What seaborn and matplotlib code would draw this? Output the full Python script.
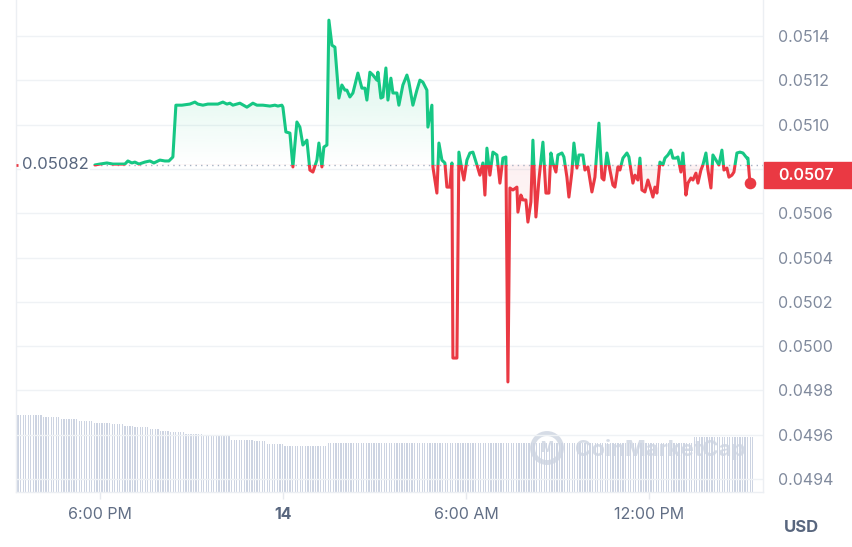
import numpy as np
import seaborn as sns
import matplotlib.pyplot as plt
from matplotlib.patches import Rectangle, Circle

# price series, hours counted from 13 Apr 00:00
price_hours = [
    17.836, 18.000, 18.230, 18.426, 18.656, 18.820, 18.918, 19.049, 19.148, 19.279,
    19.475, 19.639, 19.770, 19.967, 20.131, 20.262, 20.393, 20.492, 20.689, 20.951,
    21.115, 21.213, 21.377, 21.541, 21.705, 21.869, 22.033, 22.164, 22.262, 22.361,
    22.590, 22.820, 23.016, 23.148, 23.344, 23.574, 23.738, 23.836, 23.967, 24.000,
    24.098, 24.230, 24.328, 24.459, 24.557, 24.656, 24.787, 24.885, 24.984, 25.115,
    25.180, 25.279, 25.344, 25.443, 25.508, 25.607, 25.705, 25.836, 25.934, 26.033,
    26.098, 26.197, 26.295, 26.459, 26.590, 26.689, 26.754, 26.852, 26.951, 27.082,
    27.115, 27.213, 27.279, 27.377, 27.443, 27.541, 27.607, 27.738, 27.803, 27.934,
    28.066, 28.131, 28.262, 28.393, 28.492, 28.590, 28.721, 28.754, 28.885, 28.918,
    29.049, 29.115, 29.213, 29.311, 29.377, 29.475, 29.541, 29.574, 29.705, 29.770,
    29.869, 29.934, 30.033, 30.131, 30.230, 30.361, 30.459, 30.557, 30.623, 30.689,
    30.787, 30.885, 31.016, 31.115, 31.213, 31.311, 31.377, 31.443, 31.541, 31.672,
    31.705, 31.803, 31.869, 31.967, 32.033, 32.131, 32.197, 32.295, 32.393, 32.525,
    32.623, 32.721, 32.787, 32.852, 32.951, 33.016, 33.148, 33.213, 33.311, 33.377,
    33.475, 33.541, 33.639, 33.705, 33.836, 33.902, 34.000, 34.131, 34.230, 34.361,
    34.459, 34.525, 34.623, 34.721, 34.820, 34.885, 34.984, 35.049, 35.148, 35.279,
    35.344, 35.475, 35.541, 35.639, 35.705, 35.770, 35.869, 35.967, 36.066, 36.131,
    36.197, 36.262, 36.361, 36.459, 36.525, 36.623, 36.721, 36.787, 36.885, 36.951,
    37.049, 37.115, 37.213, 37.279, 37.377, 37.443, 37.541, 37.607, 37.705, 37.770,
    37.869, 37.934, 38.033, 38.098, 38.197, 38.295, 38.393, 38.459, 38.557, 38.623,
    38.721, 38.787, 38.885, 38.984, 39.082, 39.213, 39.246, 39.311,
]
price_values = [
    0.050818, 0.050822, 0.050827, 0.050822, 0.050822, 0.050822, 0.050836, 0.050827, 0.050831, 0.050822,
    0.050831, 0.050836, 0.050827, 0.050840, 0.050836, 0.050836, 0.050854, 0.051088, 0.051088, 0.051093,
    0.051102, 0.051093, 0.051088, 0.051093, 0.051093, 0.051093, 0.051102, 0.051093, 0.051097, 0.051088,
    0.051097, 0.051079, 0.051097, 0.051088, 0.051088, 0.051084, 0.051088, 0.051084, 0.051088, 0.051079,
    0.050967, 0.050962, 0.050809, 0.051012, 0.050989, 0.050908, 0.050930, 0.050795, 0.050786, 0.050840,
    0.050917, 0.050809, 0.050899, 0.050908, 0.051472, 0.051359, 0.051350, 0.051120, 0.051179, 0.051156,
    0.051156, 0.051125, 0.051143, 0.051233, 0.051165, 0.051165, 0.051111, 0.051237, 0.051224, 0.051201,
    0.051237, 0.051120, 0.051125, 0.051256, 0.051111, 0.051210, 0.051143, 0.051143, 0.051088, 0.051179,
    0.051224, 0.051192, 0.051088, 0.051156, 0.051201, 0.051192, 0.051156, 0.050989, 0.051088, 0.050809,
    0.050691, 0.050917, 0.050840, 0.050827, 0.050718, 0.050718, 0.050827, 0.049946, 0.049946, 0.050876,
    0.050795, 0.050750, 0.050840, 0.050872, 0.050876, 0.050818, 0.050772, 0.050827, 0.050682, 0.050894,
    0.050772, 0.050876, 0.050863, 0.050736, 0.050849, 0.050854, 0.049838, 0.050714, 0.050705, 0.050718,
    0.050605, 0.050682, 0.050660, 0.050660, 0.050560, 0.050651, 0.050930, 0.050583, 0.050750, 0.050921,
    0.050691, 0.050691, 0.050872, 0.050827, 0.050786, 0.050863, 0.050872, 0.050854, 0.050763, 0.050673,
    0.050786, 0.050917, 0.050804, 0.050863, 0.050863, 0.050795, 0.050809, 0.050696, 0.050763, 0.051007,
    0.050759, 0.050750, 0.050872, 0.050795, 0.050727, 0.050718, 0.050809, 0.050795, 0.050849, 0.050872,
    0.050854, 0.050736, 0.050772, 0.050750, 0.050849, 0.050705, 0.050696, 0.050750, 0.050705, 0.050673,
    0.050718, 0.050691, 0.050831, 0.050818, 0.050849, 0.050863, 0.050885, 0.050849, 0.050849, 0.050854,
    0.050786, 0.050872, 0.050682, 0.050736, 0.050759, 0.050750, 0.050781, 0.050736, 0.050795, 0.050818,
    0.050872, 0.050795, 0.050714, 0.050863, 0.050840, 0.050818, 0.050885, 0.050795, 0.050804, 0.050763,
    0.050772, 0.050786, 0.050872, 0.050876, 0.050872, 0.050849, 0.050849, 0.050736,
]
base_price = 0.05082

# 5-minute volume bars (relative height), run-length
volume_levels = [7.7, 7.5, 7.3, 7.1, 6.95, 6.8, 6.65, 6.5, 6.35, 6.15,
                 6.0, 5.8, 5.6, 5.25, 5.15, 4.85, 4.6, 4.9, 5.5]
volume_counts = [10, 7, 7, 6, 7, 5, 4, 6, 4, 4,
                 6, 7, 11, 9, 5, 7, 17, 144, 24]
volume_start = 15.32
volume_step = 5 / 60

tick_hours = [18, 24, 30, 36]
tick_labels = ["6:00 PM", "14", "6:00 AM", "12:00 PM"]
price_ticks = [0.0494, 0.0496, 0.0498, 0.0500, 0.0502, 0.0504,
               0.0506, 0.0508, 0.0510, 0.0512, 0.0514]

green = "#16c784"
red = "#ea3943"
grid_col = "#eff2f5"

sns.set_theme(style="white")
plt.rcParams["font.family"] = ["Inter", "DejaVu Sans"]

fig = plt.figure(figsize=(8.52, 5.47), dpi=100)
ax = fig.add_axes([16 / 852, 55 / 547, 747 / 852, 492 / 547])
ax_vol = ax.twinx()
ax.set_zorder(ax_vol.get_zorder() + 1)
ax.patch.set_visible(False)

x_lo, x_hi = 15.25, 39.74
y_lo, y_hi = 0.049341, 0.051563

# --- volume bars ---
vol = np.repeat(volume_levels, volume_counts)
vol_x = volume_start + volume_step * np.arange(len(vol))
ax_vol.bar(vol_x, vol, width=volume_step * 0.5, color="#cdd4e2", linewidth=0, zorder=1)
ax_vol.set_ylim(0, 7.7 * 492 / 77)
ax_vol.set_yticks([])
for s in ax_vol.spines.values():
    s.set_visible(False)

# watermark
wm = "#d6dce6"
ax_vol.text(575 / 852, 1 - 449 / 547, "CoinMarketCap", transform=fig.transFigure,
            fontsize=16, fontweight="bold", color=wm, va="center", ha="left", zorder=0)
ax_vol.add_patch(Circle((5.47, 0.99), 0.145, transform=fig.dpi_scale_trans,
                        fill=False, lw=3.5, ec=wm, zorder=0))
ax_vol.text(5.47, 0.99, "M", transform=fig.dpi_scale_trans, fontsize=10,
            fontweight="bold", color=wm, ha="center", va="center", zorder=0)

# --- gradient fills ---
t = np.array(price_hours)
p = np.array(price_values)
fill = ax.fill_between(t, p, base_price, color="none", linewidth=0)
clip_path = fill.get_paths()[0]

g_img = np.zeros((256, 1, 4))
g_img[..., :3] = plt.matplotlib.colors.to_rgb(green)
g_img[:, 0, 3] = np.linspace(0.22, 0.0, 256)
im_g = ax.imshow(g_img, extent=[x_lo, x_hi, base_price, p.max()], aspect="auto",
                 origin="upper", zorder=1, interpolation="bilinear")
im_g.set_clip_path(clip_path, transform=ax.transData)

r_img = np.zeros((256, 1, 4))
r_img[..., :3] = plt.matplotlib.colors.to_rgb(red)
r_img[:, 0, 3] = np.linspace(0.07, 0.0, 256)
im_r = ax.imshow(r_img, extent=[x_lo, x_hi, p.min(), base_price], aspect="auto",
                 origin="upper", zorder=1, interpolation="bilinear")
im_r.set_clip_path(clip_path, transform=ax.transData)

# --- price line, green above baseline, red below ---
sns.lineplot(x=price_hours, y=price_values, ax=ax, color=green, linewidth=2.2,
             estimator=None, sort=False, zorder=3)
line_up = ax.lines[-1]
line_up.set_clip_path(Rectangle((x_lo, base_price), x_hi - x_lo, y_hi - base_price,
                                transform=ax.transData))
sns.lineplot(x=price_hours, y=price_values, ax=ax, color=red, linewidth=2.2,
             estimator=None, sort=False, zorder=3)
line_dn = ax.lines[-1]
line_dn.set_clip_path(Rectangle((x_lo, y_lo), x_hi - x_lo, base_price - y_lo,
                                transform=ax.transData))
for ln in (line_up, line_dn):
    ln.set_solid_joinstyle("round")
    ln.set_solid_capstyle("round")

ax.hlines(base_price, price_hours[0], x_hi, colors="#a7b1c2", linestyles=(0, (1, 3)),
          linewidth=1, zorder=2)
ax.hlines(base_price, x_lo, x_lo + 0.06, colors=red, linewidth=2, zorder=4)
ax.scatter([price_hours[-1]], [price_values[-1]], s=70, color=red, zorder=5, linewidths=0)

ax.text(0.008, base_price, f"{base_price:.5f}", transform=ax.get_yaxis_transform(),
        fontsize=12, color="#58667e", va="center", ha="left", zorder=6,
        bbox=dict(fc="white", ec="none", pad=1))

# --- axes ---
ax.set_xlim(x_lo, x_hi)
ax.set_ylim(y_lo, y_hi)
ax.yaxis.tick_right()
ax.set_yticks(price_ticks)
ax.set_yticklabels([f"{v:.4f}" for v in price_ticks])
ax.tick_params(axis="y", length=0, pad=10.5, labelsize=11.5, labelcolor="#808a9d")
ax.set_xticks(tick_hours)
ax.set_xticklabels(tick_labels)
ax.tick_params(axis="x", length=5, width=1, color="#e6e9ee", pad=6,
               labelsize=11.5, labelcolor="#616e85", bottom=True)
ax.get_xticklabels()[1].set_fontweight("bold")
ax.get_xticklabels()[1].set_color("#58667e")
ax.grid(axis="y", color=grid_col, linewidth=1)
ax.grid(axis="x", visible=False)
ax.set_xlabel("")
ax.set_ylabel("")
ax.spines["top"].set_visible(False)
for side in ("left", "right", "bottom"):
    ax.spines[side].set_color("#eceff3")
    ax.spines[side].set_linewidth(1)

# current price tag on the right axis
tag_y = ax.transData.transform((x_hi, price_values[-1]))[1] + 8
fig.patches.append(Rectangle((764, tag_y - 13), 90, 26, transform=None,
                             color=red, zorder=5))
fig.text(778 / 852, tag_y / 547, f"{price_values[-1]:.4f}", fontsize=11.5,
         fontweight="semibold", color="white", va="center", ha="left", zorder=6)

fig.text(801 / 852, 1 - 527 / 547, "USD", fontsize=12, fontweight="bold",
         color="#58667e", ha="center", va="center")

fig.savefig("out.png", dpi=100)
